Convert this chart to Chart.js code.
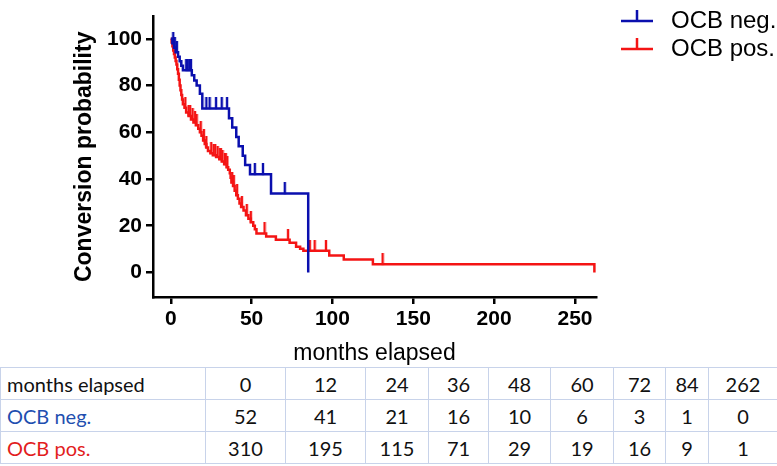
<!DOCTYPE html>
<html>
<head>
<meta charset="utf-8">
<script src="https://cdn.jsdelivr.net/npm/chart.js@4.4.1/dist/chart.umd.min.js"></script>
<style>
  html, body { margin: 0; padding: 0; background: #fff; }
  #wrap { position: relative; width: 777px; height: 466px; overflow: hidden; }
  #km { position: absolute; left: 0; top: 0; }
  #risk {
    position: absolute; left: 0; top: 367px; width: 777px;
    border-collapse: collapse; table-layout: fixed;
    font-family: Lato, "Open Sans", sans-serif; font-size: 20px; color: #111;
  }
  #risk td { border: 1.5px solid #c8d3ea; height: 31px; padding: 0; text-align: center; white-space: nowrap; }
  #risk td:first-child { text-align: left; padding-left: 6px; }
  #risk tr.neg td:first-child { color: #1f4fb0; }
  #risk tr.pos td:first-child { color: #e21d1d; }
</style>
</head>
<body>
<div id="wrap">
  <canvas id="km" width="777" height="367"></canvas>
  <table id="risk"></table>
</div>
<script>
// -------------------------------------------------------
// Data
// -------------------------------------------------------
const seriesNames = ['OCB neg.', 'OCB pos.'];

// step points: [months, probability after the step]
const negSteps = [
    [0, 100], [1, 98.1], [2, 96.2], [3, 94.2], [4.5, 92.3], [5.5, 90.4], [6.5, 88.5], [7.5, 86.5],
    [13, 84.4], [14.5, 82.2], [16, 80], [18, 76.5], [19.5, 70.2],
    [36, 66], [38, 62], [40.5, 58], [42, 54], [44.5, 50], [46, 46], [49, 42],
    [62, 33.8], [85, 0]
];
const negCensored = [1.5, 2.5, 3.8, 9.5, 10.5, 11.5, 12.5, 22, 24, 28, 31.5, 34.8, 52, 57, 70.5];

const posSteps = [
    [0, 100], [0.5, 98.4], [1, 96.8], [1.5, 95], [2, 93.5], [2.5, 92], [3, 90.5], [3.5, 89],
    [4, 87], [4.5, 85], [5, 82.5], [5.5, 80], [6, 78], [6.5, 76], [7, 74], [7.5, 72],
    [8.5, 70.5], [9.5, 68.5], [11, 67], [12.5, 65.5], [14, 64.2], [15.5, 63], [17, 61.5],
    [18, 60], [19, 58.5], [20, 56.5], [21, 55], [22, 53.5], [23, 52], [24.5, 51], [26, 50.2],
    [28, 49.4], [30, 48.5], [31.5, 47.5], [33, 46.3], [34.5, 45], [35.5, 44], [36.5, 42.5],
    [37, 40.5], [37.5, 38.5], [38.5, 37], [39.5, 35], [40.5, 33], [41.5, 31.5], [42.5, 29.5],
    [43.5, 28], [45, 26.5], [46.5, 24.5], [48, 23], [49.5, 21.5], [51, 20], [52, 18.5],
    [53, 16.7], [59, 15.4], [65, 14], [73.5, 12.7], [77.5, 11], [80, 10.2], [82, 9.3],
    [98, 7.3], [107, 5.6], [125, 3.5], [262, 0]
];
const posCensored = [9, 11, 12, 13.5, 15, 16, 18.5, 20.5, 22, 25, 26.5, 27.5, 29, 30.5, 31, 32,
    33.5, 34, 35, 38, 39, 41, 44, 47, 49.5, 58, 72.5, 86, 89, 96, 131];

const xTicks = [0, 50, 100, 150, 200, 250];
const yTicks = [0, 20, 40, 60, 80, 100];

// numbers at risk
const tableHeader = 'months elapsed';
const tableTimes = [0, 12, 24, 36, 48, 60, 72, 84, 262];
const atRiskNeg = [52, 41, 21, 16, 10, 6, 3, 1, 0];
const atRiskPos = [310, 195, 115, 71, 29, 19, 16, 9, 1];

// -------------------------------------------------------
// Styles
// -------------------------------------------------------
const BLUE = '#0a0fae';
const RED = '#f41414';
const FONT = '"Liberation Sans", Arial, sans-serif';
const colWidths = [205, 80, 80, 63, 60, 62, 63, 52, 43, 69];

function valueAt(steps, t) {
    let v = steps[0][1];
    for (const [x, y] of steps) { if (x <= t) v = y; }
    return v;
}

// small vertical tick sitting on top of the curve
function tickImage(color) {
    const c = document.createElement('canvas');
    c.width = 4; c.height = 22;
    const g = c.getContext('2d');
    g.strokeStyle = color; g.lineWidth = 2.4;
    g.beginPath(); g.moveTo(2, 0); g.lineTo(2, 11.5); g.stroke();
    return c;
}

const legendPlugin = {
    id: 'kmLegend',
    afterDraw(chart) {
        const ctx = chart.ctx;
        const items = [[seriesNames[0], BLUE, 21], [seriesNames[1], RED, 49]];
        ctx.save();
        items.forEach(([label, color, y]) => {
            ctx.strokeStyle = color; ctx.lineWidth = 2.5;
            ctx.beginPath();
            ctx.moveTo(621, y); ctx.lineTo(653, y);
            ctx.moveTo(637, y); ctx.lineTo(637, y - 11);
            ctx.stroke();
            ctx.fillStyle = '#000';
            ctx.font = '24px ' + FONT;
            ctx.textBaseline = 'middle';
            ctx.fillText(label, 671, y);
        });
        ctx.restore();
    }
};

const toXY = arr => arr.map(([x, y]) => ({ x, y }));
const censorXY = (steps, times) => times.map(t => ({ x: t, y: valueAt(steps, t) }));

new Chart(document.getElementById('km'), {
    type: 'line',
    data: {
        datasets: [
            { label: seriesNames[0], data: toXY(negSteps), borderColor: BLUE, borderWidth: 2.5,
              stepped: 'before', pointRadius: 0, fill: false },
            { type: 'scatter', data: censorXY(negSteps, negCensored), pointStyle: tickImage(BLUE),
              showLine: false },
            { label: seriesNames[1], data: toXY(posSteps), borderColor: RED, borderWidth: 2.5,
              stepped: 'before', pointRadius: 0, fill: false },
            { type: 'scatter', data: censorXY(posSteps, posCensored), pointStyle: tickImage(RED),
              showLine: false }
        ]
    },
    options: {
        responsive: false,
        animation: false,
        layout: { padding: { left: 0, top: 3, right: 181, bottom: 0 } },
        plugins: { legend: { display: false }, tooltip: { enabled: false } },
        scales: {
            x: {
                type: 'linear', min: -11, max: 263,
                afterFit: s => { s.height = 70; },
                afterBuildTicks: s => { s.ticks = xTicks.map(v => ({ value: v })); },
                grid: { drawOnChartArea: false, drawTicks: true, tickLength: 7, color: '#000', lineWidth: 2.5 },
                border: { display: true, color: '#000', width: 2.5 },
                ticks: { font: { family: FONT, size: 21, weight: 'bold' }, color: '#000', padding: 3,
                         maxRotation: 0, autoSkip: false },
                title: { display: true, text: 'months elapsed', color: '#000',
                         font: { family: FONT, size: 23 }, padding: { top: 0, bottom: 0 } }
            },
            y: {
                type: 'linear', min: -10.5, max: 109.5,
                afterFit: s => { s.width = 153; },
                afterBuildTicks: s => { s.ticks = yTicks.map(v => ({ value: v })); },
                grid: { drawOnChartArea: false, drawTicks: true, tickLength: 7, color: '#000', lineWidth: 2.5 },
                border: { display: true, color: '#000', width: 2.5 },
                ticks: { font: { family: FONT, size: 21, weight: 'bold' }, color: '#000', padding: 4 },
                title: { display: true, text: 'Conversion probability', color: '#000',
                         font: { family: FONT, size: 23, weight: 'bold' }, padding: { top: 71, bottom: 0 } }
            }
        }
    },
    plugins: [legendPlugin]
});

// -------------------------------------------------------
// Number-at-risk table
// -------------------------------------------------------
const table = document.getElementById('risk');
const cg = document.createElement('colgroup');
colWidths.forEach(w => { const c = document.createElement('col'); c.style.width = w + 'px'; cg.appendChild(c); });
table.appendChild(cg);
[[tableHeader, tableTimes, ''], [seriesNames[0], atRiskNeg, 'neg'], [seriesNames[1], atRiskPos, 'pos']]
    .forEach(([name, vals, cls]) => {
        const tr = document.createElement('tr');
        if (cls) tr.className = cls;
        [name, ...vals].forEach(v => { const td = document.createElement('td'); td.textContent = v; tr.appendChild(td); });
        table.appendChild(tr);
    });
</script>
</body>
</html>
